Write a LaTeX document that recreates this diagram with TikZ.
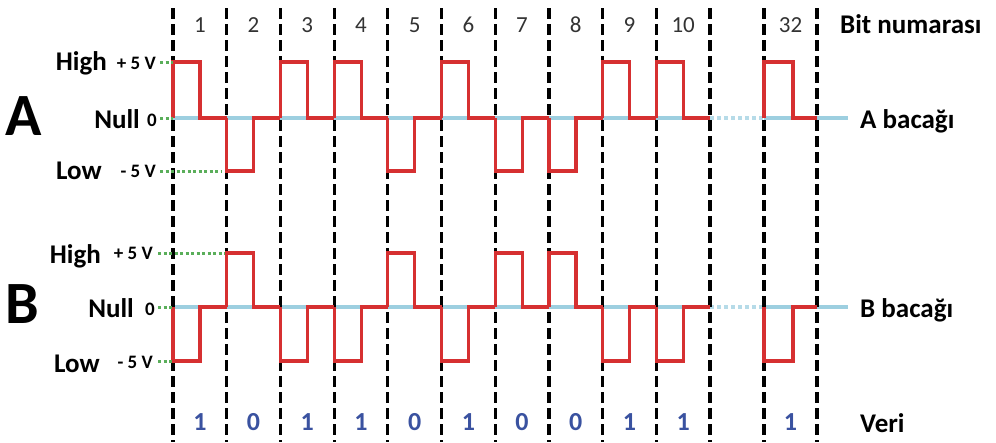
\documentclass[tikz,border=0pt]{standalone}
\usepackage{fontspec}
\setmainfont{Carlito}
\definecolor{sigred}{HTML}{D63031}
\definecolor{nullblue}{HTML}{9DCFE0}
\definecolor{lvlgreen}{HTML}{5AAE5A}
\definecolor{datblue}{HTML}{3A52A0}
\tikzset{
  bitline/.style={black,line width=3.2pt,dash pattern=on 11pt off 5pt},
  sig/.style={sigred,line width=3.2pt},
  zero/.style={nullblue,line width=3.2pt},
  guide/.style={lvlgreen,line width=3pt,dash pattern=on 3pt off 2.5pt},
  lbl/.style={font=\fontsize{27}{27}\selectfont\bfseries,inner sep=0pt,anchor=base east},
  volt/.style={font=\fontsize{19}{19}\selectfont\bfseries,inner sep=0pt,anchor=base east},
  side/.style={font=\fontsize{27}{27}\selectfont\bfseries,inner sep=0pt,anchor=base west},
  bitno/.style={font=\fontsize{23}{23}\selectfont,text=black!80,inner sep=0pt,anchor=base},
  dat/.style={font=\fontsize{26}{26}\selectfont\bfseries,text=datblue,inner sep=0pt,anchor=base},
  leg/.style={font=\fontsize{60}{60}\selectfont\bfseries,inner sep=0pt,anchor=base west}
}
\begin{document}
\begin{tikzpicture}[x=1pt,y=-1pt]
\useasboundingbox (0,0) rectangle (996,442);
% null lines
\foreach \y in {118,307} {
  \draw[zero] (173,\y) -- (710,\y);
  \draw[zero,nullblue!75,dash pattern=on 4pt off 3pt] (710,\y) -- (764,\y);
  \draw[zero] (764,\y) -- (848,\y);
}
% bit slots
\foreach \k in {0,...,10} {
  \draw[bitline] ({173+53.7*\k},8) -- ++(0,434);
}
\draw[bitline] (764,8) -- ++(0,434);
\draw[bitline] (817,8) -- ++(0,434);
% signals A and B
\foreach \d [count=\i] in {1,0,1,1,0,1,0,0,1,1} {
  \pgfmathsetmacro\xa{173+53.7*(\i-1)}
  \pgfmathsetmacro\ya{\d==1 ? 62 : 171}
  \pgfmathsetmacro\yb{\d==1 ? 361 : 253}
  \draw[sig] (\xa,118) -- (\xa,\ya) -- ({\xa+27},\ya) -- ({\xa+27},118) -- ({\xa+53.7},118);
  \draw[sig] (\xa,307) -- (\xa,\yb) -- ({\xa+27},\yb) -- ({\xa+27},307) -- ({\xa+53.7},307);
  \node[bitno] (no\i) at ({\xa+26.85},32) {\i};
  \node[dat] (d\i) at ({\xa+26.85},430) {\d};
}
\draw[sig] (764,118) -- (764,62) -- (793,62) -- (793,118) -- (817,118);
\draw[sig] (764,307) -- (764,361) -- (793,361) -- (793,307) -- (817,307);
\node[bitno] (no32) at (790.5,32) {32};
\node[dat] (d32) at (790.5,430) {1};
% level guides
\draw[guide] (160,62) -- (173,62);
\draw[guide] (160,118) -- (173,118);
\draw[guide] (160,171) -- (222,171);
\draw[guide] (158,253) -- (225,253);
\draw[guide] (158,307) -- (173,307);
\draw[guide] (158,361) -- (173,361);
% level labels
\node[leg] (legA) at (5,135) {A};
\node[lbl] (hiA) at (107,70) {High};
\node[volt] (hivA) at (156,69) {+ 5 V};
\node[lbl] (nuA) at (140,128) {Null};
\node[volt] (nuvA) at (157,126) {0};
\node[lbl] (loA) at (102,179) {Low};
\node[volt] (lovA) at (156,177) {- 5 V};
\node[leg] (legB) at (5,323) {B};
\node[lbl] (hiB) at (101,263) {High};
\node[volt] (hivB) at (153,259) {+ 5 V};
\node[lbl] (nuB) at (134,317) {Null};
\node[volt] (nuvB) at (155,315) {0};
\node[lbl] (loB) at (100,372) {Low};
\node[volt] (lovB) at (153,368) {- 5 V};
% right side
\node[side] (bitn) at (840,33) {Bit numarası};
\node[side] (bacA) at (860,128) {A bacağı};
\node[side] (bacB) at (860,317) {B bacağı};
\node[side] (veri) at (860,432) {Veri};
\end{tikzpicture}
\end{document}
